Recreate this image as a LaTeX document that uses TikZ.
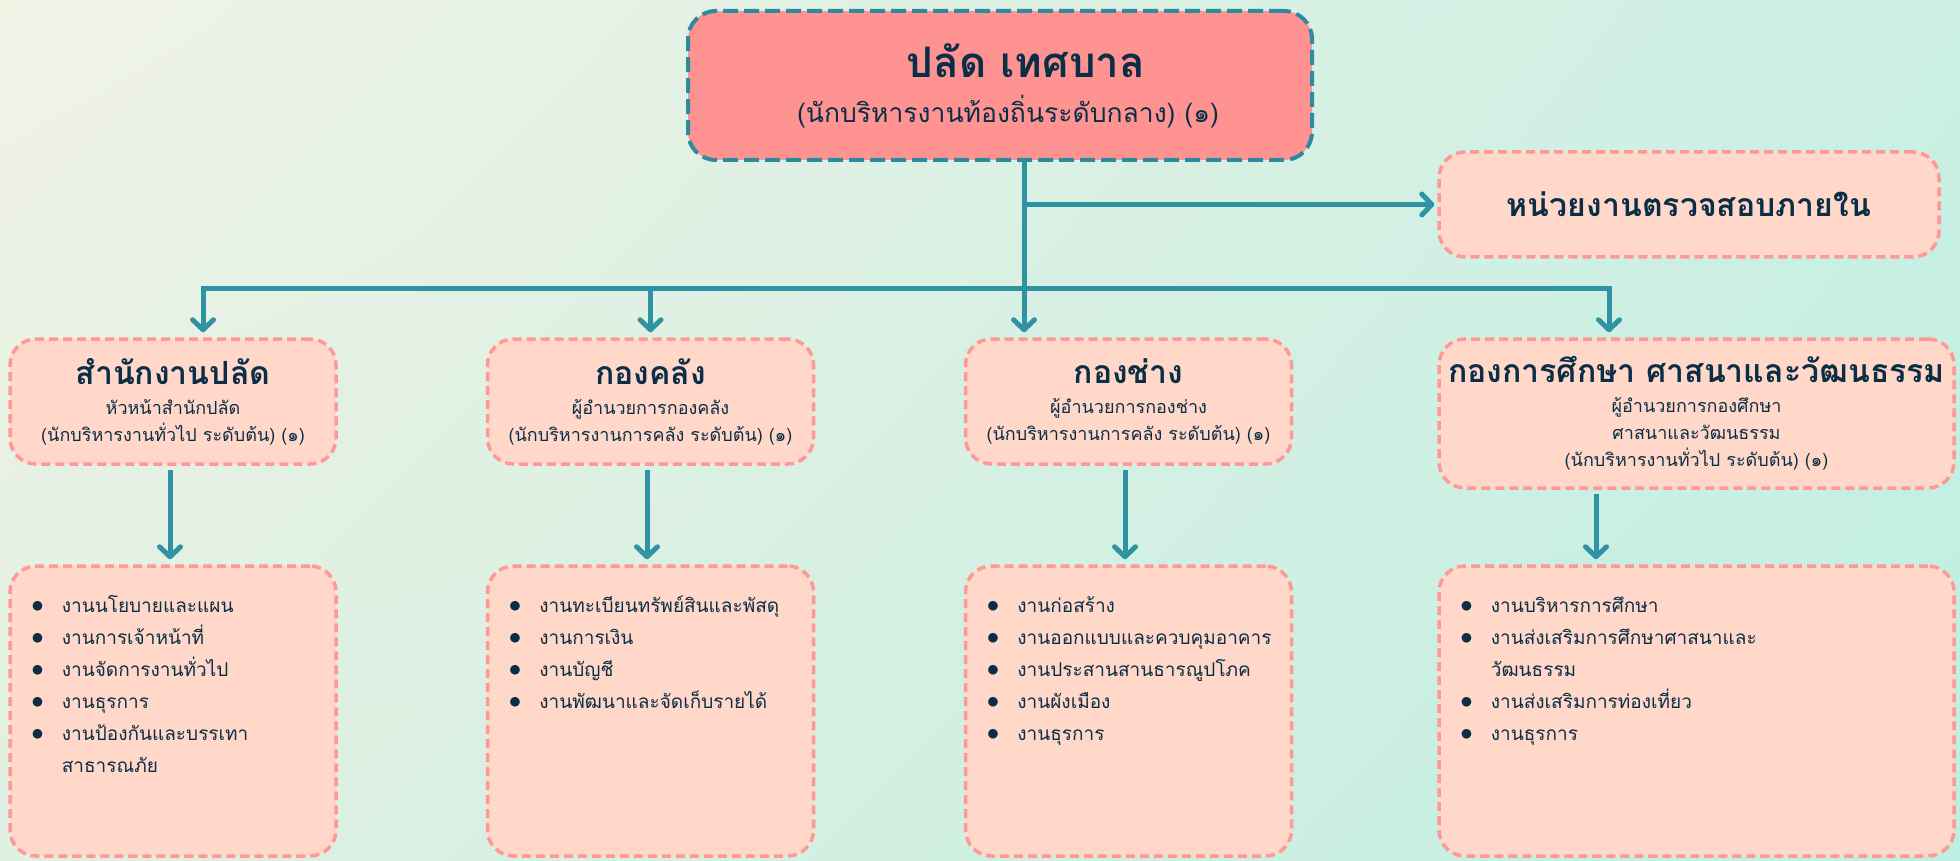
\documentclass[tikz,border=0pt]{standalone}
\usepackage{fontspec}
\newfontfamily\thaifont[Script=Thai]{Loma}
\usetikzlibrary{arrows.meta,positioning,shadings}

\definecolor{bgUL}{HTML}{F1F3E5}
\definecolor{bgUR}{HTML}{CBEFE3}
\definecolor{bgLL}{HTML}{E0F0E2}
\definecolor{bgLR}{HTML}{BFEFE2}
\definecolor{chieffill}{HTML}{FF9392}
\definecolor{chiefline}{HTML}{2E8B9E}
\definecolor{peach}{HTML}{FFD8C9}
\definecolor{pinkline}{HTML}{FF9896}
\definecolor{arrowteal}{HTML}{2F93A3}
\definecolor{ink}{HTML}{0B2E47}

\tikzset{
  chief/.style={draw=chiefline, fill=chieffill, line width=4pt,
    dash pattern=on 15pt off 6pt, rounded corners=28pt,
    minimum width=624pt, minimum height=149pt, text=ink, align=center,
    font=\thaifont\fontsize{26.5}{30}\selectfont},
  unit/.style={draw=pinkline, fill=peach, line width=3.5pt,
    dash pattern=on 9pt off 5pt, rounded corners=26pt, text=ink,
    align=center, font=\thaifont\fontsize{18}{27}\selectfont},
  jobs/.style={unit, minimum height=290pt},
  joblist/.style={anchor=north west, text=ink, inner sep=0pt,
    font=\thaifont\fontsize{19}{32}\selectfont},
  link/.style={draw=arrowteal, line width=5pt},
  arr/.style={link, -{Straight Barb[length=10pt,width=21pt,round]}}
}

\newcommand{\jobdot}{{\fontsize{26}{32}\selectfont$\bullet$}}
\newcommand{\joblines}[1]{\begin{tabular}{@{}c@{\hspace{18pt}}l@{}}#1\end{tabular}}

\begin{document}
\begin{tikzpicture}[x=1pt,y=-1pt]
  % background
  \useasboundingbox (0,0) rectangle (1960,861);
  \shade[upper left=bgUL, upper right=bgUR, lower left=bgLL, lower right=bgLR]
    (0,0) rectangle (1960,861);

  % top level
  \node[chief] (chief) at (1000,85.5)
    {\hspace*{52pt}{\bfseries\fontsize{42}{44}\selectfont ปลัด เทศบาล}\\[15pt]
     \hspace*{16pt}(นักบริหารงานท้องถิ่นระดับกลาง) (๑)};
  \node[unit, minimum width=500pt, minimum height=105pt,
    font=\thaifont\bfseries\fontsize{32}{36}\selectfont] (audit) at (1689,204.5)
    {หน่วยงานตรวจสอบภายใน};

  % divisions
  \node[unit, minimum width=326pt, minimum height=125pt] (s1) at (173,401.5)
    {{\bfseries\fontsize{32}{36}\selectfont สำนักงานปลัด}\\[3pt]
     หัวหน้าสำนักปลัด\\(นักบริหารงานทั่วไป ระดับต้น) (๑)};
  \node[unit, minimum width=326pt, minimum height=125pt] (s2) at (650.5,401.5)
    {{\bfseries\fontsize{32}{36}\selectfont กองคลัง}\\[3pt]
     ผู้อำนวยการกองคลัง\\(นักบริหารงานการคลัง ระดับต้น) (๑)};
  \node[unit, minimum width=326pt, minimum height=125pt] (s3) at (1128.5,401.5)
    {{\bfseries\fontsize{32}{36}\selectfont กองช่าง}\\[3pt]
     ผู้อำนวยการกองช่าง\\(นักบริหารงานการคลัง ระดับต้น) (๑)};
  \node[unit, minimum width=515pt, minimum height=149pt] (s4) at (1696.5,413.5)
    {{\bfseries\fontsize{32}{36}\selectfont กองการศึกษา ศาสนาและวัฒนธรรม}\\[3pt]
     ผู้อำนวยการกองศึกษา\\ศาสนาและวัฒนธรรม\\(นักบริหารงานทั่วไป ระดับต้น) (๑)};

  % work boxes
  \node[jobs, minimum width=326pt] (l1) at (173,711) {};
  \node[jobs, minimum width=326pt] (l2) at (650.5,711) {};
  \node[jobs, minimum width=326pt] (l3) at (1128.5,711) {};
  \node[jobs, minimum width=515pt] (l4) at (1696.5,711) {};

  \node[joblist] (l1text) at ([xshift=23pt,yshift=-26pt]l1.north west)
    {\joblines{\jobdot & งานนโยบายและแผน\\ \jobdot & งานการเจ้าหน้าที่\\
      \jobdot & งานจัดการงานทั่วไป\\ \jobdot & งานธุรการ\\
      \jobdot & งานป้องกันและบรรเทา\\ & สาธารณภัย}};
  \node[joblist] (l2text) at ([xshift=23pt,yshift=-26pt]l2.north west)
    {\joblines{\jobdot & งานทะเบียนทรัพย์สินและพัสดุ\\ \jobdot & งานการเงิน\\
      \jobdot & งานบัญชี\\ \jobdot & งานพัฒนาและจัดเก็บรายได้}};
  \node[joblist] (l3text) at ([xshift=23pt,yshift=-26pt]l3.north west)
    {\joblines{\jobdot & งานก่อสร้าง\\ \jobdot & งานออกแบบและควบคุมอาคาร\\
      \jobdot & งานประสานสานธารณูปโภค\\ \jobdot & งานผังเมือง\\
      \jobdot & งานธุรการ}};
  \node[joblist] (l4text) at ([xshift=23pt,yshift=-26pt]l4.north west)
    {\joblines{\jobdot & งานบริหารการศึกษา\\ \jobdot & งานส่งเสริมการศึกษาศาสนาและ\\
      & วัฒนธรรม\\ \jobdot & งานส่งเสริมการท่องเที่ยว\\ \jobdot & งานธุรการ}};

  % connectors
  \coordinate (bus) at (1024,288);
  \draw[link] ([xshift=24pt]chief.south) -- (bus);
  \draw[arr, shorten >=3pt] (bus |- audit.west) -- (audit.west);
  \draw[arr, shorten >=5pt] (bus) -| ([xshift=30pt]s1.north);
  \draw[arr, shorten >=5pt] (bus) -| (s2.north);
  \draw[arr, shorten >=5pt] (bus) -- (bus |- s3.north);
  \draw[arr, shorten >=5pt] (bus) -| ([xshift=-87.5pt]s4.north);

  \draw[arr, shorten <=4pt, shorten >=5pt] ([xshift=-3pt]s1.south) -- ([xshift=-3pt]l1.north);
  \draw[arr, shorten <=4pt, shorten >=5pt] ([xshift=-3.5pt]s2.south) -- ([xshift=-3.5pt]l2.north);
  \draw[arr, shorten <=4pt, shorten >=5pt] ([xshift=-3.5pt]s3.south) -- ([xshift=-3.5pt]l3.north);
  \draw[arr, shorten <=4pt, shorten >=5pt] ([xshift=-100.5pt]s4.south) -- ([xshift=-100.5pt]l4.north);
\end{tikzpicture}
\end{document}
